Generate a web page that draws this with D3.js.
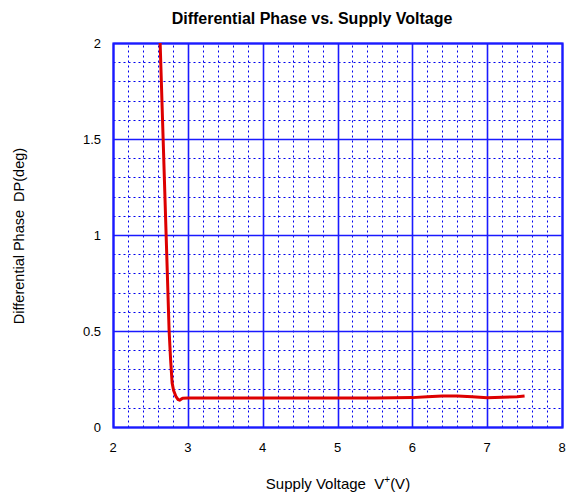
<!DOCTYPE html>
<html>
<head>
<meta charset="utf-8">
<script src="https://cdn.jsdelivr.net/npm/d3@7"></script>
<style>
  body { margin: 0; background: #fff; }
  text { font-family: "Liberation Sans", Arial, sans-serif; }
</style>
</head>
<body>
<div id="container"></div>
<script>
// data
const voltage = [2.63, 2.67, 2.71, 2.75, 2.77, 2.79, 2.81, 2.84, 2.87, 2.89, 2.93, 3.0, 3.5, 4.0, 4.5, 5.0, 5.5, 6.0, 6.2, 6.4, 6.6, 6.8, 7.0, 7.2, 7.4, 7.5];
const phase   = [2.0, 1.5, 1.0, 0.5, 0.35, 0.23, 0.19, 0.16, 0.143, 0.14, 0.15, 0.151, 0.151, 0.151, 0.151, 0.151, 0.151, 0.153, 0.157, 0.162, 0.162, 0.157, 0.152, 0.155, 0.158, 0.162];
const xTicks = [2, 3, 4, 5, 6, 7, 8];
const yTicks = [0, 0.5, 1, 1.5, 2];

const width = 567, height = 495;
const margin = {top: 43, right: 5, bottom: 68, left: 113};

const svg = d3.select("#container").append("svg")
  .attr("width", width)
  .attr("height", height);

const x = d3.scaleLinear().domain([2, 8]).range([margin.left, width - margin.right]);
const y = d3.scaleLinear().domain([0, 2]).range([height - margin.bottom, margin.top]);

// snap to pixel centre so 1px lines stay crisp
const px = v => Math.round(x(v)) + 0.5;
const py = v => Math.round(y(v)) + 0.5;

const grid = "#1a1aff";

// minor dotted grid
svg.append("g").selectAll("line")
  .data(d3.range(2, 8.001, 0.2).filter(v => Math.abs(v - Math.round(v)) > 1e-6))
  .enter().append("line")
  .attr("x1", d => px(d)).attr("x2", d => px(d))
  .attr("y1", py(0)).attr("y2", py(2))
  .attr("stroke", "#0000ee").attr("stroke-width", 1)
  .attr("stroke-dasharray", "2,3");

svg.append("g").selectAll("line")
  .data(d3.range(0, 2.001, 0.1).filter(v => Math.abs(v * 2 - Math.round(v * 2)) > 1e-6))
  .enter().append("line")
  .attr("x1", px(2)).attr("x2", px(8))
  .attr("y1", d => py(d)).attr("y2", d => py(d))
  .attr("stroke", "#0000ee").attr("stroke-width", 1)
  .attr("stroke-dasharray", "2,3");

// major solid grid
svg.append("g").selectAll("line")
  .data(xTicks)
  .enter().append("line")
  .attr("x1", d => px(d)).attr("x2", d => px(d))
  .attr("y1", py(0)).attr("y2", py(2))
  .attr("stroke", grid).attr("stroke-width", 1.6);

svg.append("g").selectAll("line")
  .data(yTicks)
  .enter().append("line")
  .attr("x1", px(2)).attr("x2", px(8))
  .attr("y1", d => py(d)).attr("y2", d => py(d))
  .attr("stroke", grid).attr("stroke-width", 1.6);

// frame
svg.append("rect")
  .attr("x", px(2)).attr("y", py(2))
  .attr("width", px(8) - px(2)).attr("height", py(0) - py(2))
  .attr("fill", "none").attr("stroke", grid).attr("stroke-width", 2.2);

// curve
const line = d3.line()
  .x((d, i) => x(voltage[i]))
  .y(d => y(d));

svg.append("path")
  .datum(phase)
  .attr("d", line)
  .attr("fill", "none")
  .attr("stroke", "#dd0000")
  .attr("stroke-width", 3)
  .attr("stroke-linejoin", "round");

// tick labels
svg.append("g").selectAll("text")
  .data(xTicks)
  .enter().append("text")
  .attr("x", d => x(d)).attr("y", y(0) + 25)
  .attr("text-anchor", "middle")
  .style("font-size", "13px")
  .text(d => d);

svg.append("g").selectAll("text")
  .data(yTicks)
  .enter().append("text")
  .attr("x", x(2) - 12).attr("y", d => y(d) + 5)
  .attr("text-anchor", "end")
  .style("font-size", "13px")
  .text(d => d);

// titles
svg.append("text")
  .attr("x", 312).attr("y", 24)
  .attr("text-anchor", "middle")
  .style("font-size", "16px").style("font-weight", "bold")
  .text("Differential Phase vs. Supply Voltage");

const xl = svg.append("text")
  .attr("x", 338).attr("y", 489)
  .attr("text-anchor", "middle")
  .style("font-size", "15px")
  .attr("xml:space", "preserve");
xl.append("tspan").text("Supply Voltage  V");
xl.append("tspan").attr("dy", -6).style("font-size", "10px").text("+");
xl.append("tspan").attr("dy", 6).text("(V)");

svg.append("text")
  .attr("transform", "translate(24,236) rotate(-90)")
  .attr("text-anchor", "middle")
  .style("font-size", "14.5px")
  .attr("xml:space", "preserve")
  .text("Differential Phase  DP(deg)");
</script>
</body>
</html>
